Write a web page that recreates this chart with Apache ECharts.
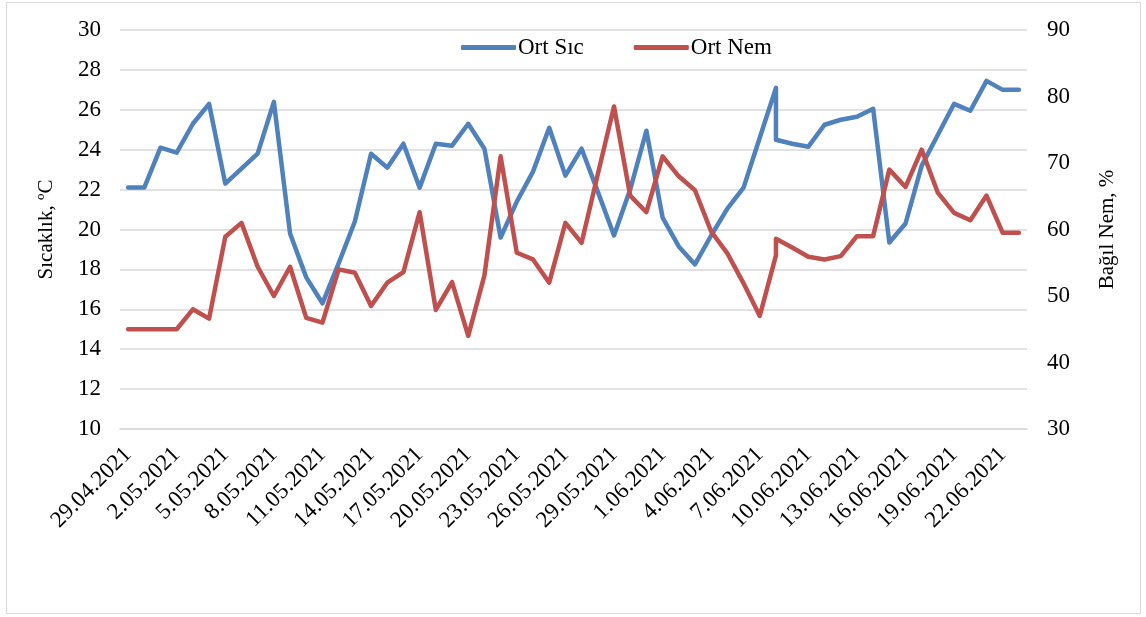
<!DOCTYPE html>
<html>
<head>
    <meta charset="utf-8">
    <title>Ort Sıc / Ort Nem</title>
    <script type="text/javascript" src="https://cdn.jsdelivr.net/npm/echarts@6/dist/echarts.min.js"></script>
    <style>
        body { margin: 0; background: #fff; }
        #frame { position: absolute; left: 6px; top: 2px; width: 1133px; height: 610px; border: 1px solid #d9d9d9; }
    </style>
</head>
<body>
<div id="frame"></div>
<div id="main" style="position:absolute;left:0;top:0;width:1146px;height:617px;"></div>
<script type="text/javascript">
    // tarih etiketleri (kategori ekseni)
    var dates = ['29.04.2021', '30.04.2021',
        '1.05.2021', '2.05.2021', '3.05.2021', '4.05.2021', '5.05.2021', '6.05.2021', '7.05.2021', '8.05.2021',
        '9.05.2021', '10.05.2021', '11.05.2021', '12.05.2021', '13.05.2021', '14.05.2021', '15.05.2021',
        '16.05.2021', '17.05.2021', '18.05.2021', '19.05.2021', '20.05.2021', '21.05.2021', '22.05.2021',
        '23.05.2021', '24.05.2021', '25.05.2021', '26.05.2021', '27.05.2021', '28.05.2021', '29.05.2021',
        '30.05.2021', '31.05.2021',
        '1.06.2021', '2.06.2021', '3.06.2021', '4.06.2021', '5.06.2021', '6.06.2021', '7.06.2021', '8.06.2021',
        '9.06.2021', '10.06.2021', '11.06.2021', '12.06.2021', '13.06.2021', '14.06.2021', '15.06.2021',
        '16.06.2021', '17.06.2021', '18.06.2021', '19.06.2021', '20.06.2021', '21.06.2021', '22.06.2021',
        '23.06.2021'];

    // 8.06 günü iki ölçüm var
    var repeatDay = '8.06.2021';

    var ortSic = [22.1, 22.1, 24.1, 23.85, 25.3, 26.3, 22.3, 23.05, 23.8, 26.4,
        19.8, 17.6, 16.3, 18.3, 20.4, 23.8, 23.1, 24.3, 22.1, 24.3,
        24.2, 25.3, 24.05, 19.6, 21.4, 22.9, 25.1, 22.7, 24.05, 21.9,
        19.7, 22.0, 24.95, 20.6, 19.15, 18.25, 19.7, 21.05, 22.1, 24.6,
        27.1, 24.5, 24.3, 24.15, 25.25, 25.5, 25.65, 26.05, 19.35, 20.3,
        23.2, 24.75, 26.3, 25.95, 27.45, 27.0, 27.0];

    var ortNem = [45, 45, 45, 45, 48, 46.6, 58.9, 61.0, 54.4, 50.0,
        54.4, 46.7, 46.0, 54.0, 53.5, 48.5, 52.0, 53.6, 62.6, 47.9,
        52.1, 44.0, 53.1, 71.0, 56.5, 55.5, 52.0, 61.0, 58.0, 68.3,
        78.5, 65.1, 62.6, 71.0, 68.0, 65.9, 59.7, 56.4, 51.9, 47.0,
        56.1, 58.6, 57.3, 55.9, 55.5, 56.0, 59.0, 59.0, 69.0, 66.4,
        72.0, 65.5, 62.5, 61.4, 65.1, 59.5, 59.5];

    var pointDates = [];
    for (var d = 0; d < dates.length; d++) {
        pointDates.push(dates[d]);
        if (dates[d] === repeatDay) pointDates.push(dates[d]);
    }

    function pairs(vals) {
        var out = [];
        for (var i = 0; i < vals.length; i++) out.push([pointDates[i], vals[i]]);
        return out;
    }

    var font = 'Liberation Serif';
    var myChart = echarts.init(document.getElementById('main'));
    myChart.setOption({
        animation: false,
        grid: { left: 120, right: 119, top: 30, bottom: 188 },
        legend: {
            left: 456,
            top: 31,
            icon: 'roundRect',
            itemWidth: 55,
            itemHeight: 5,
            itemGap: 50,
            textStyle: { fontFamily: font, fontSize: 23, color: '#000', padding: [0, 0, 0, -3] },
            data: ['Ort Sıc', 'Ort Nem']
        },
        xAxis: {
            type: 'category',
            data: dates,
            boundaryGap: true,
            axisLine: { lineStyle: { color: '#d9d9d9', width: 1.5 } },
            axisTick: { show: false },
            axisLabel: {
                interval: 2,
                rotate: 45,
                margin: 22,
                fontFamily: font,
                fontSize: 23,
                color: '#000'
            }
        },
        yAxis: [{
            type: 'value',
            min: 10, max: 30, interval: 2,
            name: 'Sıcaklık, ºC',
            nameLocation: 'middle',
            nameRotate: 90,
            nameGap: 63,
            nameTextStyle: { fontFamily: font, fontSize: 21, color: '#000' },
            axisLine: { show: false },
            axisTick: { show: false },
            axisLabel: { fontFamily: font, fontSize: 23, color: '#000', margin: 19 },
            splitLine: { lineStyle: { color: '#d9d9d9', width: 1.5 } }
        }, {
            type: 'value',
            min: 30, max: 90, interval: 10,
            name: 'Bağıl Nem, %',
            nameLocation: 'middle',
            nameRotate: 90,
            nameGap: 70,
            nameTextStyle: { fontFamily: font, fontSize: 21, color: '#000' },
            axisLine: { show: false },
            axisTick: { show: false },
            axisLabel: { fontFamily: font, fontSize: 23, color: '#000', margin: 20 },
            splitLine: { show: false }
        }],
        series: [{
            name: 'Ort Sıc',
            type: 'line',
            yAxisIndex: 0,
            showSymbol: false,
            color: '#4f81bd',
            lineStyle: { width: 4.5, cap: 'round', join: 'round' },
            data: pairs(ortSic)
        }, {
            name: 'Ort Nem',
            type: 'line',
            yAxisIndex: 1,
            showSymbol: false,
            color: '#c0504d',
            lineStyle: { width: 4.5, cap: 'round', join: 'round' },
            data: pairs(ortNem)
        }]
    });
</script>
</body>
</html>
